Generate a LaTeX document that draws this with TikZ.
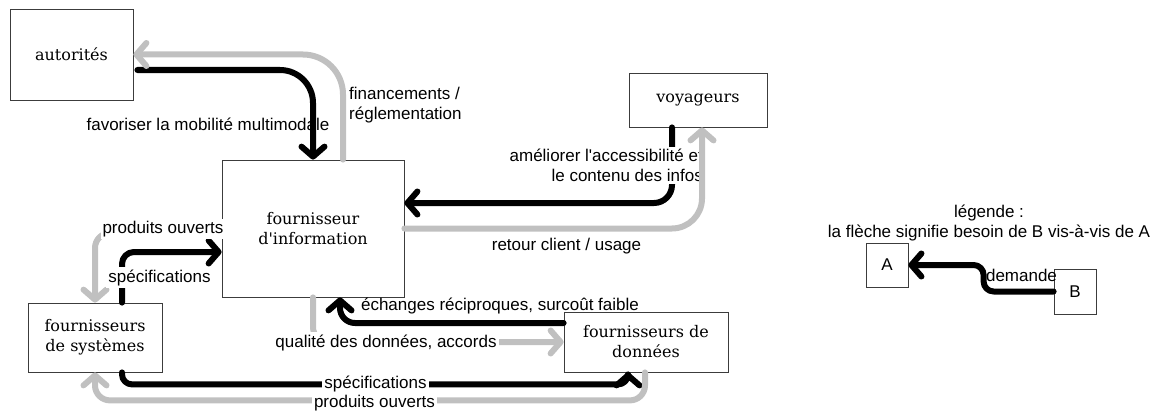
\documentclass[tikz,border=0pt]{standalone}
\usepackage{fontspec}
\setsansfont{Liberation Sans}
\newfontfamily\boxfont{DejaVu Serif}
\usetikzlibrary{arrows.meta}
\definecolor{lgray}{RGB}{192,192,192}
\definecolor{bordercol}{RGB}{60,60,60}
\tikzset{
  box/.style={draw=bordercol, line width=0.8pt, align=center, inner sep=0pt,
    font=\boxfont\fontsize{16}{20}\selectfont},
  lbox/.style={draw=bordercol, line width=0.8pt, inner sep=0pt,
    font=\sffamily\fontsize{17}{20}\selectfont},
  lab/.style={font=\sffamily\fontsize{17}{20}\selectfont, inner sep=1pt},
  labw/.style={lab, fill=white, inner sep=2pt},
  conn/.style={line width=6pt, line cap=round, line join=round,
    -{Straight Barb[length=10pt,width=23pt,round]}},
  blk/.style={conn, draw=black},
  gry/.style={conn, draw=lgray},
}
\begin{document}
\begin{tikzpicture}[x=1pt,y=-1pt]
\useasboundingbox (0,0) rectangle (1164,412);
% boxes
\node[box, minimum width=123pt, minimum height=91pt] (aut) at (71.5,54.5) {autorités};
\node[box, minimum width=182pt, minimum height=137pt] (info) at (313,228.5) {fournisseur\\d\textquotesingle information};
\node[box, minimum width=138pt, minimum height=54pt] (voy) at (698,100) {voyageurs};
\node[box, minimum width=134pt, minimum height=69pt] (sys) at (95,337.5) {fournisseurs\\de systèmes};
\node[box, minimum width=164pt, minimum height=60pt] (don) at (646,342) {fournisseurs de\\données};
\node[lbox, minimum width=42pt, minimum height=44pt] (A) at (887,265) {A};
\node[lbox, minimum width=42pt, minimum height=45pt] (B) at (1075,291.5) {B};
% labels under the connectors
\node[lab, anchor=base] (lfav) at (208,130) {favoriser la mobilité multimodale};
\node[lab, anchor=west, align=left] (lfin) at (348,105) {financements /\\réglementation};
\node[lab, anchor=base] (lech) at (500,310) {échanges réciproques, surcoût faible};
\node[lab, anchor=base] (ldem) at (1021.5,281) {demande};
\node[lab, align=center] (lleg) at (989,223) {légende :\\la flèche signifie besoin de B vis-à-vis de A};
\node[lab, anchor=base] (lret) at (566.5,250) {retour client / usage};
% connectors
\draw[blk, rounded corners=33pt] ([shift={(4,15.5)}]aut.east) -| (info.north);
\draw[gry, rounded corners=40pt] ([shift={(30,0)}]info.north) |- (aut.east);
\draw[blk, rounded corners=18pt] ([shift={(-26,0)}]voy.south) |- ([shift={(0,-25.5)}]info.east);
\node[labw, anchor=east, align=right] (lame) at (705,165.5) {améliorer l\textquotesingle accessibilité et\\le contenu des infos};
\draw[gry, rounded corners=30pt] (info.east) -| ([shift={(4,0)}]voy.south);
\draw[blk, rounded corners=12pt] ([shift={(27,0)}]sys.north) |- ([shift={(0,23.5)}]info.west);
\draw[gry, rounded corners=15pt] ([shift={(0,4.5)}]info.west) -| (sys.north);
\draw[blk, rounded corners=10pt] ([shift={(27,0)}]sys.south) -- ++(0,12) -| ([shift={(-18,0)}]don.south);
\draw[gry, rounded corners=15pt] ([shift={(-1,0)}]don.south) -- ++(0,28) -| (sys.south);
\draw[blk, rounded corners=15pt] ([shift={(0,-19)}]don.west) -| ([shift={(27,0)}]info.south);
\draw[gry, rounded corners=15pt] (info.south) |- (don.west);
\draw[blk, rounded corners=10pt] (B.west) -- ++(-70,0) |- (A.east);
% labels over the connectors
\node[labw, anchor=base] (lpo1) at (163,233) {produits ouverts};
\node[labw, anchor=base] (lsp1) at (159.5,282) {spécifications};
\node[labw, anchor=base] (lqua) at (386,347) {qualité des données, accords};
\node[labw, anchor=base, inner ysep=0pt] (lsp2) at (375.5,388) {spécifications};
\node[labw, anchor=base, inner ysep=0pt] (lpo2) at (374.5,407) {produits ouverts};
\end{tikzpicture}
\end{document}
